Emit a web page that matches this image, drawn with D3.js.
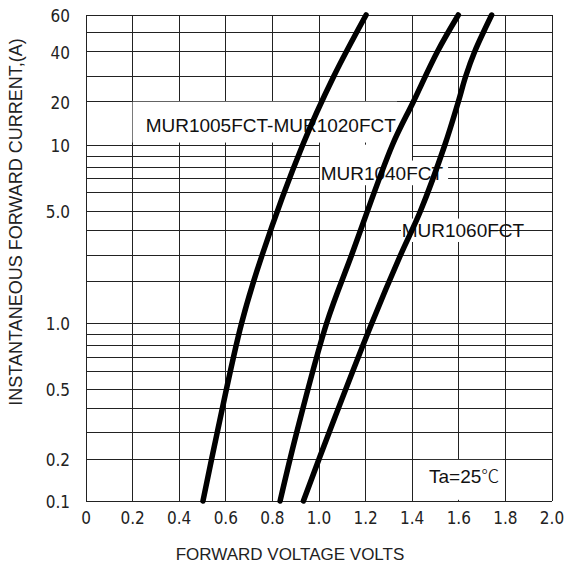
<!DOCTYPE html>
<html>
<head>
<meta charset="utf-8">
<script src="https://cdn.jsdelivr.net/npm/d3@7"></script>
<style>
  body { margin: 0; background: #fff; }
  svg { display: block; }
</style>
</head>
<body>
<svg width="564" height="564"></svg>
<script>
// forward characteristics, Ta = 25C
var voltTicks = [0, 0.2, 0.4, 0.6, 0.8, 1.0, 1.2, 1.4, 1.6, 1.8, 2.0];
var voltLabels = ["0", "0.2", "0.4", "0.6", "0.8", "1.0", "1.2", "1.4", "1.6", "1.8", "2.0"];
var ampGrid = [0.1, 0.2, 0.3, 0.4, 0.5, 0.6, 0.7, 0.8, 0.9, 1, 2, 3, 4, 5, 6, 7, 8, 9, 10, 20, 30, 40, 50, 60];
var ampTicks = [0.1, 0.2, 0.5, 1, 5, 10, 20, 40, 60];
var ampLabels = ["0.1", "0.2", "0.5", "1.0", "5.0", "10", "20", "40", "60"];

var seriesNames = ["MUR1005FCT-MUR1020FCT", "MUR1040FCT", "MUR1060FCT"];
var ampA = [0.1, 0.3, 1, 3, 10, 30, 60];
var voltA = [0.502, 0.563, 0.668, 0.756, 0.930, 1.064, 1.202];
var ampB = [0.1, 0.3, 1, 3, 10, 20, 40, 60];
var voltB = [0.833, 0.904, 1.033, 1.140, 1.315, 1.405, 1.508, 1.598];
var ampC = [0.1, 0.3, 1, 3, 5, 10, 20, 30, 40, 60];
var voltC = [0.933, 1.043, 1.227, 1.350, 1.435, 1.540, 1.598, 1.630, 1.668, 1.741];
var tempLabel = "Ta=25";

var svg = d3.select("svg"),
    margin = {top: 15, left: 86},
    width = 466,
    height = 486;

var narrow = "'Liberation Sans Narrow', 'DejaVu Sans Condensed', 'Arial Narrow', sans-serif",
    sans = "'Liberation Sans', Arial, sans-serif";

var x = d3.scaleLinear().domain([0, 2]).range([0, width]);
// the printed log paper is not evenly spaced, so the scale is calibrated per grid line
var yCal = [486, 444, 417.7, 393.7, 374, 356.7, 342, 330.7, 319.3, 308, 266, 240, 215.7, 196.3, 177.7, 163.3, 152.3, 141.3, 130, 86.7, 61, 36.7, 17.7, 0];
var y = d3.scaleLog().domain(ampGrid).range(yCal);

var g = svg.append("g")
    .attr("transform", "translate(" + margin.left + "," + margin.top + ")");

// grid
g.append("g").selectAll("line").data(ampGrid).enter().append("line")
    .attr("x1", 0).attr("x2", width)
    .attr("y1", function(d) { return y(d); })
    .attr("y2", function(d) { return y(d); })
    .attr("stroke", "#222").attr("stroke-width", 1)
    .attr("shape-rendering", "crispEdges");
g.append("g").selectAll("line").data(voltTicks).enter().append("line")
    .attr("y1", 0).attr("y2", height)
    .attr("x1", function(d) { return x(d); })
    .attr("x2", function(d) { return x(d); })
    .attr("stroke", "#222").attr("stroke-width", 1)
    .attr("shape-rendering", "crispEdges");

// white patches where the grid is broken around the captions [v0, v1, i0, i1]
var gaps = [
  [0.2, 1.335, 10.4, 20],
  [1.004, 1.399, 6.5, 10.05],
  [1.399, 1.554, 6.5, 8.6],
  [1.352, 1.75, 3.5, 4.6],
  [1.433, 1.79, 0.102, 0.197]
];
g.append("g").selectAll("rect").data(gaps).enter().append("rect")
    .attr("x", function(d) { return x(d[0]); })
    .attr("y", function(d) { return y(d[3]); })
    .attr("width", function(d) { return x(d[1]) - x(d[0]); })
    .attr("height", function(d) { return y(d[2]) - y(d[3]); })
    .attr("fill", "#fff");

// captions
var captions = [
  {text: seriesNames[0], v: 0.256, i: 12.3},
  {text: seriesNames[1], v: 1.007, i: 6.9},
  {text: seriesNames[2], v: 1.355, i: 3.72}
];
g.append("g").selectAll("text").data(captions).enter().append("text")
    .attr("x", function(d) { return x(d.v); })
    .attr("y", function(d) { return y(d.i); })
    .attr("font-family", sans).attr("font-size", 19)
    .attr("fill", "#111")
    .text(function(d) { return d.text; });

var ta = g.append("text")
    .attr("x", x(1.472)).attr("y", y(0.135))
    .attr("font-family", sans).attr("font-size", 19)
    .attr("fill", "#111");
ta.append("tspan").text(tempLabel);
ta.append("tspan").attr("font-family", "'Noto Sans CJK SC', 'DejaVu Sans', sans-serif")
    .attr("font-weight", 300).attr("font-size", 18).text("\u2103");

// curves
var line = d3.line()
    .x(function(d) { return x(d[0]); })
    .y(function(d) { return y(d[1]); })
    .curve(d3.curveCatmullRom.alpha(0.5));
var curves = [d3.zip(voltA, ampA), d3.zip(voltB, ampB), d3.zip(voltC, ampC)];
g.append("g").selectAll("path").data(curves).enter().append("path")
    .attr("d", line)
    .attr("fill", "none")
    .attr("stroke", "#000")
    .attr("stroke-width", 5.5)
    .attr("stroke-linecap", "round")
    .attr("stroke-linejoin", "round");

// tick labels
g.append("g").selectAll("text").data(voltTicks).enter().append("text")
    .attr("x", function(d) { return x(d); })
    .attr("y", height + 23)
    .attr("text-anchor", "middle")
    .attr("font-family", narrow).attr("font-size", 17)
    .attr("fill", "#222")
    .text(function(d, i) { return voltLabels[i]; });
g.append("g").selectAll("text").data(ampTicks).enter().append("text")
    .attr("x", -16)
    .attr("y", function(d) { return y(d); })
    .attr("dy", "0.42em")
    .attr("text-anchor", "end")
    .attr("font-family", narrow).attr("font-size", 17)
    .attr("fill", "#222")
    .text(function(d, i) { return ampLabels[i]; });

// axis titles
svg.append("text")
    .attr("x", 290).attr("y", 560)
    .attr("text-anchor", "middle")
    .attr("font-family", sans).attr("font-size", 17)
    .attr("fill", "#222")
    .text("FORWARD VOLTAGE VOLTS");
svg.append("text")
    .attr("transform", "translate(22,222) rotate(-90)")
    .attr("text-anchor", "middle")
    .attr("font-family", sans).attr("font-size", 18)
    .attr("fill", "#222")
    .text("INSTANTANEOUS FORWARD CURRENT,(A)");
</script>
</body>
</html>
